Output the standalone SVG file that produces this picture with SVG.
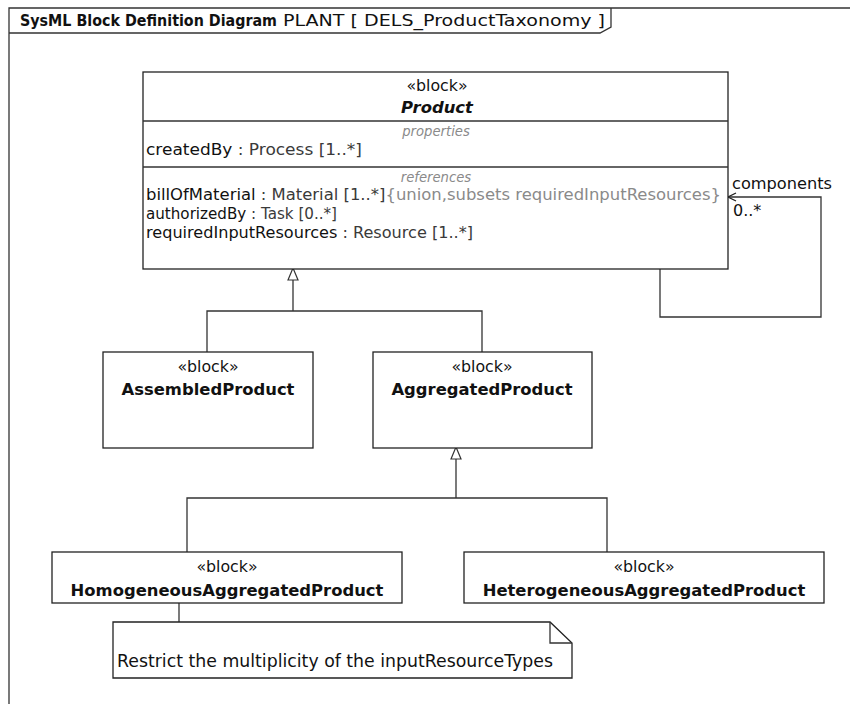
<svg xmlns="http://www.w3.org/2000/svg" width="850" height="704" viewBox="0 0 850 704">
  <style>
    text { font-family: "DejaVu Sans", Verdana, sans-serif; fill: #111; }
    .ttl { font-size: 15px; font-weight: bold; }
    .hdr { font-size: 15px; }
    .st { font-size: 15.8px; text-anchor: middle; }
    .nm { font-size: 16.4px; font-weight: bold; text-anchor: middle; }
    .abs { font-style: italic; }
    .cmp { font-size: 13.2px; font-style: italic; fill: #8a8a8a; text-anchor: middle; }
    .attr { font-size: 16px; }
    .note { font-size: 17px; }
    .ty { fill: #3a3a3a; }
    .gr { fill: #8a8a8a; }
    .box { fill: #fff; stroke: #222; stroke-width: 1.3; }
    .ln { fill: none; stroke: #333; stroke-width: 1.3; }
  </style>
  <defs>
    <marker id="gen" viewBox="0 0 14 12" refX="13" refY="6" markerWidth="14" markerHeight="12" markerUnits="userSpaceOnUse" orient="auto">
      <path d="M1,1 L13,6 L1,11 Z" fill="#fff" stroke="#333" stroke-width="1.2"/>
    </marker>
    <marker id="open" viewBox="0 0 10 10" refX="9" refY="5" markerWidth="10" markerHeight="10" markerUnits="userSpaceOnUse" orient="auto">
      <path d="M1,1 L9,5 L1,9" fill="none" stroke="#222" stroke-width="1.3"/>
    </marker>
  </defs>

  <rect width="850" height="704" fill="#fff"/>

  <!-- diagram frame -->
  <g id="frame">
    <path class="ln" d="M9,704 V8 H850" stroke="#222"/>
    <path class="ln" d="M9,33 H600 L611,27 V8"/>
    <text x="20" y="26" class="ttl" textLength="257" lengthAdjust="spacingAndGlyphs">SysML Block Definition Diagram</text>
    <text x="283" y="26" class="hdr" textLength="322" lengthAdjust="spacingAndGlyphs">PLANT [  DELS_ProductTaxonomy  ]</text>
  </g>

  <!-- connectors -->
  <g id="connectors">
    <!-- Assembled / Aggregated specialize Product -->
    <path class="ln" d="M207,352 V311 H482 V352"/>
    <path class="ln" d="M293,311 V268" marker-end="url(#gen)"/>
    <!-- Homogeneous / Heterogeneous specialize AggregatedProduct -->
    <path class="ln" d="M187,552 V498 H607 V552"/>
    <path class="ln" d="M456,498 V447" marker-end="url(#gen)"/>
    <!-- components self association -->
    <path class="ln" d="M660,269 V317 H821 V197 H728" marker-end="url(#open)"/>
    <text x="732" y="189" class="attr" textLength="100" lengthAdjust="spacingAndGlyphs">components</text>
    <text x="733" y="216" class="attr">0..*</text>
    <!-- note anchor -->
    <path class="ln" d="M179,603 V622"/>
  </g>

  <g id="Product">
    <rect class="box" x="143" y="72" width="585" height="197"/>
    <line class="ln" x1="143" y1="121" x2="728" y2="121"/>
    <line class="ln" x1="143" y1="167" x2="728" y2="167"/>
    <text x="437" y="91" class="st">«block»</text>
    <text x="437" y="113" class="nm abs">Product</text>
    <text x="436" y="136" class="cmp">properties</text>
    <text x="146" y="155" class="attr" textLength="216" lengthAdjust="spacingAndGlyphs">createdBy<tspan class="ty"> : Process [1..*]</tspan></text>
    <text x="436" y="182" class="cmp">references</text>
    <text x="146" y="200" class="attr" textLength="575" lengthAdjust="spacingAndGlyphs">billOfMaterial<tspan class="ty"> : Material [1..*]</tspan><tspan class="gr">{union,subsets requiredInputResources}</tspan></text>
    <text x="146" y="219" class="attr" textLength="191" lengthAdjust="spacingAndGlyphs">authorizedBy<tspan class="ty"> : Task [0..*]</tspan></text>
    <text x="146" y="238" class="attr" textLength="327" lengthAdjust="spacingAndGlyphs">requiredInputResources<tspan class="ty"> : Resource [1..*]</tspan></text>
  </g>

  <g id="AssembledProduct">
    <rect class="box" x="103" y="352" width="210" height="96"/>
    <text x="208" y="372" class="st">«block»</text>
    <text x="208" y="395" class="nm">AssembledProduct</text>
  </g>

  <g id="AggregatedProduct">
    <rect class="box" x="373" y="352" width="219" height="96"/>
    <text x="482" y="372" class="st">«block»</text>
    <text x="482" y="395" class="nm">AggregatedProduct</text>
  </g>

  <g id="HomogeneousAggregatedProduct">
    <rect class="box" x="52" y="552" width="350" height="51"/>
    <text x="227" y="572" class="st">«block»</text>
    <text x="227" y="596" class="nm">HomogeneousAggregatedProduct</text>
  </g>

  <g id="HeterogeneousAggregatedProduct">
    <rect class="box" x="464" y="552" width="360" height="51"/>
    <text x="644" y="572" class="st">«block»</text>
    <text x="644" y="596" class="nm">HeterogeneousAggregatedProduct</text>
  </g>

  <g id="note">
    <path class="box" d="M113,622 H550 L572,643 V678 H113 Z"/>
    <path class="ln" d="M550,622 V643 H572"/>
    <text x="117" y="667" class="note" textLength="436" lengthAdjust="spacingAndGlyphs">Restrict the multiplicity of the inputResourceTypes</text>
  </g>
</svg>
